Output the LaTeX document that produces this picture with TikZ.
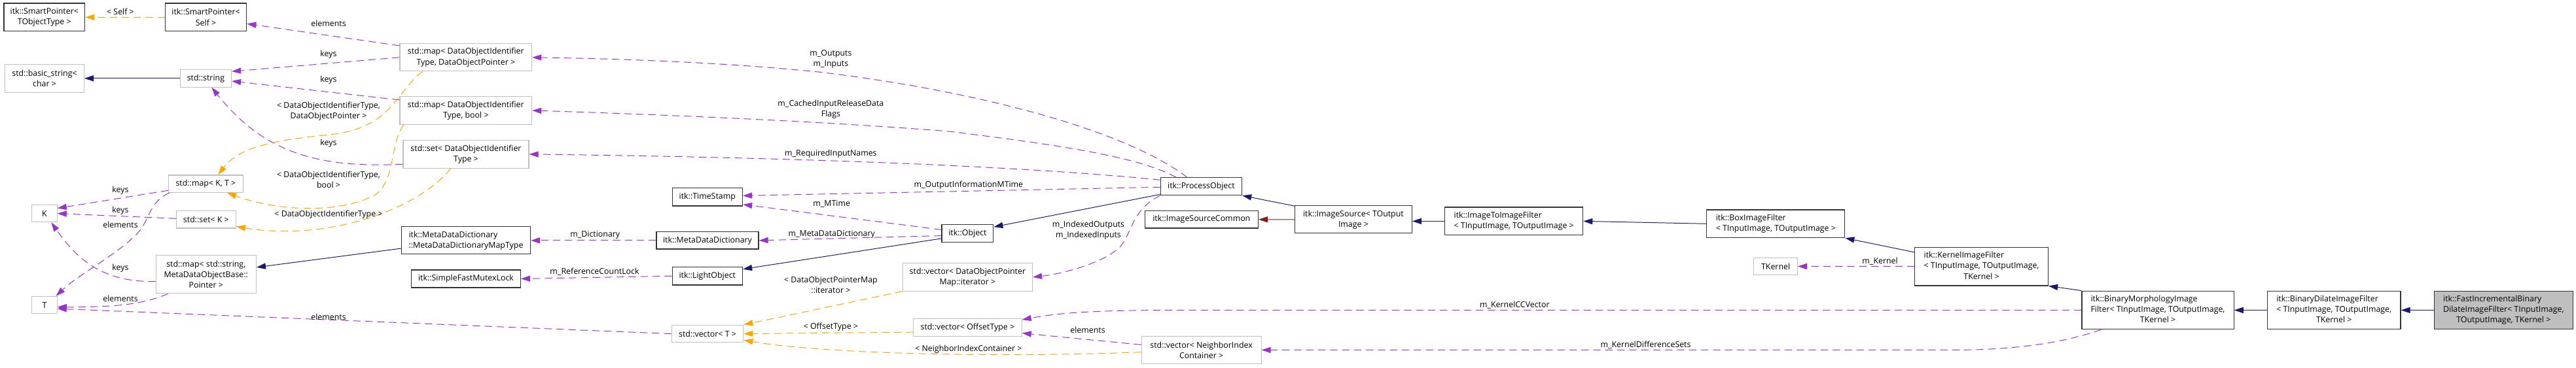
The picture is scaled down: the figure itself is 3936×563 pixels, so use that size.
\documentclass[tikz,border=0pt]{standalone}
\usepackage{fontspec}
\setmainfont{Open Sans}
\usepackage{xcolor}
\usepackage{tikz}
\usetikzlibrary{arrows.meta}

\definecolor{inhblue}{HTML}{191970}
\definecolor{usepurple}{HTML}{9A32CD}
\definecolor{tplorange}{HTML}{FFA500}
\definecolor{privred}{HTML}{8B1A1A}

\begin{document}
\begin{tikzpicture}[
        x=0.025cm, y=-0.025cm,
        every node/.style={font=\fontsize{8.8}{11.5}\selectfont},
        cls/.style={
            rectangle, draw=black!80, line width=0.8pt,
            inner sep=1pt, align=center
        },
        extcls/.style={cls, draw=black!25},
        curcls/.style={cls, fill=black!25},
        sz/.style 2 args={minimum width=#1*0.025cm, minimum height=#2*0.025cm},
        lbl/.style={inner sep=0pt, align=center},
        link/.style={line width=0.7pt, -{Triangle[length=10pt, width=6.5pt]}},
        inherit/.style={link, draw=inhblue},
        privinh/.style={link, draw=privred},
        usage/.style={link, draw=usepurple, dash pattern=on 8pt off 5pt},
        templ/.style={link, draw=tplorange, dash pattern=on 8pt off 5pt}
    ]
    \useasboundingbox (0,0) rectangle (3936,563);

    % std and helper types on the left
    \node[cls, sz={123.7}{42.8}] (spTObj) at (67.8,26.4) {itk::SmartPointer<\\TObjectType >};
    \node[cls, sz={124.2}{42.8}] (spSelf) at (314.6,26.4) {itk::SmartPointer<\\Self >};
    \node[extcls, sz={120.8}{42.4}] (basicStr) at (68,119.9) {std::basic\_string<\\char >};
    \node[extcls, sz={78.2}{26.6}] (stdString) at (314.4,119.9) {std::string};
    \node[extcls, sz={113.6}{26.5}] (mapKT) at (314.4,281.2) {std::map< K, T >};
    \node[extcls, sz={90.9}{26.2}] (setK) at (314.9,335.9) {std::set< K >};
    \node[extcls, sz={38.3}{26.2}] (nK) at (68,326.6) {K};
    \node[extcls, sz={38.3}{26.2}] (nT) at (68,466.6) {T};
    \node[extcls, sz={153.2}{58.1}] (mapStr) at (314.8,419.8) {std::map< std::string,\\MetaDataObjectBase::\\Pointer >};
    \node[extcls, sz={201.5}{42}] (mapDOP) at (711.8,87.8) {std::map< DataObjectIdentifier\\Type, DataObjectPointer >};
    \node[extcls, sz={201.5}{42.7}] (mapBool) at (711.8,169) {std::map< DataObjectIdentifier\\Type, bool >};
    \node[extcls, sz={192}{42.4}] (setDOI) at (712,235.9) {std::set< DataObjectIdentifier\\Type >};
    \node[cls, sz={197}{42}, align=left] (mddMap) at (712,367.9) {itk::MetaDataDictionary\\::MetaDataDictionaryMapType};
    \node[cls, sz={166.7}{27}] (mutex) at (712,426.5) {itk::SimpleFastMutexLock};

    % object layer
    \node[cls, sz={107.5}{27.3}] (timeStamp) at (1080.8,301.3) {itk::TimeStamp};
    \node[cls, sz={156}{26.2}] (mdd) at (1081,367.9) {itk::MetaDataDictionary};
    \node[cls, sz={107.5}{27.3}] (lightObj) at (1080.8,422.3) {itk::LightObject};
    \node[extcls, sz={109.5}{26.6}] (vecT) at (1081,510.6) {std::vector< T >};
    \node[cls, sz={78.8}{27}] (object) at (1478.4,357.1) {itk::Object};
    \node[extcls, sz={198.2}{42.3}] (vecDOPM) at (1478.4,424) {std::vector< DataObjectPointer\\Map::iterator >};
    \node[extcls, sz={165.4}{26.6}] (vecOff) at (1478.4,500.9) {std::vector< OffsetType >};
    \node[cls, sz={124.4}{26.9}] (procObj) at (1835.4,285.2) {itk::ProcessObject};
    \node[cls, sz={173.3}{26.6}] (isCommon) at (1835.8,335.7) {itk::ImageSourceCommon};
    \node[extcls, sz={182.9}{42}] (vecNIC) at (1835.6,535.5) {std::vector< NeighborIndex\\Container >};

    % filter chain
    \node[cls, sz={178.8}{42}] (imgSource) at (2067.9,335.9) {itk::ImageSource< TOutput\\Image >};
    \node[cls, sz={210.9}{42.8}, align=left] (i2i) at (2313.2,338.4) {itk::ImageToImageFilter\\< TInputImage, TOutputImage >};
    \node[cls, sz={210.9}{42.7}, align=left] (boxF) at (2713.3,342.3) {itk::BoxImageFilter\\< TInputImage, TOutputImage >};
    \node[extcls, sz={66.5}{26.5}] (tKernel) at (2713.1,407.5) {TKernel};
    \node[cls, sz={203.9}{58.5}] (kernelF) at (3027.6,407.7) {\begin{tabular}{@{}l@{}}itk::KernelImageFilter\\< TInputImage, TOutputImage,\\\multicolumn{1}{@{}c@{}}{TKernel >}\end{tabular}};
    \node[cls, sz={232.2}{58.6}] (binMorph) at (3297,474.5) {\begin{tabular}{@{}l@{}}itk::BinaryMorphologyImage\\Filter< TInputImage, TOutputImage,\\\multicolumn{1}{@{}c@{}}{TKernel >}\end{tabular}};
    \node[cls, sz={203.5}{58.6}] (binDilate) at (3566.2,474.5) {\begin{tabular}{@{}l@{}}itk::BinaryDilateImageFilter\\< TInputImage, TOutputImage,\\\multicolumn{1}{@{}c@{}}{TKernel >}\end{tabular}};
    \node[curcls, sz={211.9}{58.6}] (fastInc) at (3825.3,474.5) {\begin{tabular}{@{}l@{}}itk::FastIncrementalBinary\\DilateImageFilter< TInputImage,\\\multicolumn{1}{@{}c@{}}{TOutputImage, TKernel >}\end{tabular}};

    % inheritance
    \draw[inherit] (stdString) -- (basicStr);
    \draw[inherit] (mddMap.187) -- (mapStr.8);
    \draw[inherit] (object.191) -- (lightObj.11);
    \draw[inherit] (procObj.191) -- (object.14);
    \draw[inherit] (imgSource.167) -- (procObj.south east);
    \draw[privinh] (imgSource) -- (isCommon);
    \draw[inherit] (i2i.west) -- (imgSource.east |- i2i.west);
    \draw[inherit] (boxF.west) -- (i2i.east);
    \draw[inherit] (kernelF.168) -- (boxF.south east);
    \draw[inherit] (binMorph.north west) -- (kernelF.south east);
    \draw[inherit] (binDilate) -- (binMorph);
    \draw[inherit] (fastInc) -- (binDilate);

    % members
    \draw[templ] (spSelf) -- (spTObj);
    \draw[usage] (mapDOP.170) -- (spSelf.-9);
    \draw[usage] (mapDOP.west) -- (stdString.15);
    \draw[usage] (mapBool.171) -- (stdString.-6);
    \draw[usage] (setDOI.189) .. controls (480,258) and (400,230) .. (stdString.-57);
    \draw[templ] (mapDOP.198) .. controls (605,140) and (600,195) .. (505,206) .. controls (420,214) and (365,225) .. (mapKT.36);
    \draw[templ] (mapBool.193) .. controls (595,220) and (605,280) .. (570,300) .. controls (520,325) and (430,325) .. (mapKT.-23);
    \draw[templ] (setDOI.223) .. controls (640,320) and (500,370) .. (setK.-13);
    \draw[usage] (mapKT.190) -- (nK.22);
    \draw[usage] (setK.178) -- (nK.east);
    \draw[usage] (mapKT.194) .. controls (225,310) and (230,340) .. (205,362) .. controls (170,395) and (120,420) .. (nT.38);
    \draw[usage] (mapStr.188) .. controls (160,432) and (120,400) .. (nK.-53);
    \draw[usage] (mapStr.207) .. controls (220,465) and (180,470) .. (nT.-9);
    \draw[usage] (vecT.west) -- (nT.-16);
    \draw[usage] (mdd) -- (mddMap);
    \draw[usage] (lightObj.west) -- (mutex.east);
    \draw[usage] (procObj.181) -- (timeStamp.2);
    \draw[usage] (object.172) -- (timeStamp.-12);
    \draw[usage] (object.185) -- (mdd.east);
    \draw[usage] (procObj.147) .. controls (1720,200) and (1500,140) .. (1250,110) .. controls (1100,95) and (950,90) .. (mapDOP.east);
    \draw[usage] (procObj.160) .. controls (1740,240) and (1620,222) .. (1450,201) .. controls (1250,185) and (1000,175) .. (mapBool.east);
    \draw[usage] (procObj.171) .. controls (1600,258) and (1300,242) .. (setDOI.east);
    \draw[usage] (procObj.south west) .. controls (1730,320) and (1730,355) .. (1712,377) .. controls (1690,400) and (1630,418) .. (vecDOPM.east);
    \draw[templ] (vecDOPM.south west) -- (vecT.north east);
    \draw[templ] (vecOff.185) -- (vecT.east);
    \draw[templ] (vecNIC.182) .. controls (1500,548) and (1250,540) .. (vecT.-10);
    \draw[usage] (vecNIC.175) -- (vecOff.-6);
    \draw[usage] (kernelF.west) -- (tKernel.east);
    \draw[usage] (binMorph.west) -- (1800,474.5) .. controls (1680,474.5) and (1620,478) .. (vecOff.8);
    \draw[usage] (binMorph.199) .. controls (3150,525) and (3080,535.5) .. (2980,535.5) -- (vecNIC.east);

    % edge labels
    \node[lbl] (lSelf) at (184,18) {< Self >};
    \node[lbl] (lElemSp) at (502,35.5) {elements};
    \node[lbl] (lKeysDOP) at (502,83.7) {keys};
    \node[lbl] (lKeysBool) at (502,122.4) {keys};
    \node[lbl] (lTplDOP) at (502,170.5) {< DataObjectIdentifierType,\\DataObjectPointer >};
    \node[lbl] (lKeysSet) at (502,219.4) {keys};
    \node[lbl] (lTplBool) at (502,274.7) {< DataObjectIdentifierType,\\bool >};
    \node[lbl] (lTplSet) at (502,328.5) {< DataObjectIdentifierType >};
    \node[lbl] (lKeysMap) at (184,291.6) {keys};
    \node[lbl] (lKeysSetK) at (184,322.4) {keys};
    \node[lbl] (lElemMap) at (184,344) {elements};
    \node[lbl] (lKeysStr) at (184,410.4) {keys};
    \node[lbl] (lElemStr) at (184,456.7) {elements};
    \node[lbl] (lElemVec) at (502,484.7) {elements};
    \node[lbl] (lOutputs) at (1269.4,90.5) {m\_Outputs\\m\_Inputs};
    \node[lbl] (lCached) at (1269.4,167.7) {m\_CachedInputReleaseData\\Flags};
    \node[lbl] (lRequired) at (1269.4,235.5) {m\_RequiredInputNames};
    \node[lbl] (lOutInfo) at (1479.9,283.7) {m\_OutputInformationMTime};
    \node[lbl] (lMTime) at (1270.7,311.7) {m\_MTime};
    \node[lbl] (lMdd) at (1270.7,358.3) {m\_MetaDataDictionary};
    \node[lbl] (lDict) at (909.3,359) {m\_Dictionary};
    \node[lbl] (lLock) at (908.5,415.4) {m\_ReferenceCountLock};
    \node[lbl] (lIndexed) at (1663,352.6) {m\_IndexedOutputs\\m\_IndexedInputs};
    \node[lbl] (lTplIter) at (1269.4,436.3) {< DataObjectPointerMap\\::iterator >};
    \node[lbl] (lTplOff) at (1269.4,500.2) {< OffsetType >};
    \node[lbl] (lTplNIC) at (1479.9,534.3) {< NeighborIndexContainer >};
    \node[lbl] (lElemNIC) at (1662,504.5) {elements};
    \node[lbl] (lCCVec) at (2314.3,466.8) {m\_KernelCCVector};
    \node[lbl] (lDiffSets) at (2514.5,527.8) {m\_KernelDifferenceSets};
    \node[lbl] (lKernel) at (2872.6,399.3) {m\_Kernel};

\end{tikzpicture}
\end{document}
